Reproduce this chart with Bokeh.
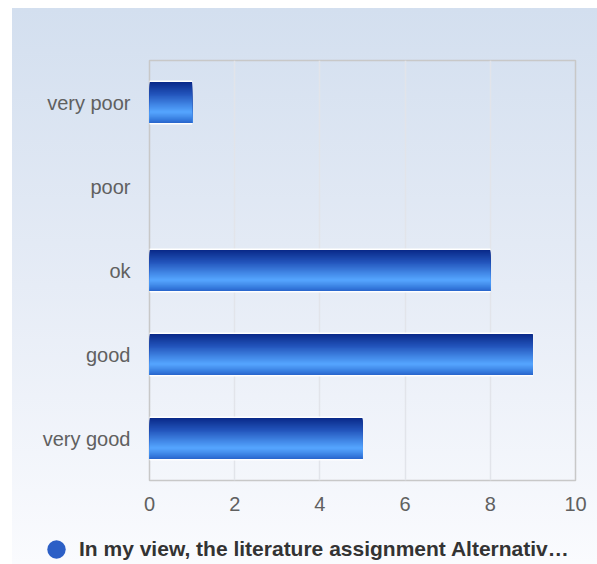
from bokeh.plotting import figure
from bokeh.layouts import column
from bokeh.models import ColumnDataSource, FactorRange, Range1d, Legend, LegendItem, FixedTicker
from bokeh.transform import dodge
from bokeh.embed import file_html
from bokeh.resources import INLINE

# ---- data ----
categories = ["very poor", "poor", "ok", "good", "very good"]
values = [1, 0, 8, 9, 5]
x_ticks = [0, 2, 4, 6, 8, 10]
series_name = "In my view, the literature assignment Alternativ\u2026"

# ---- styling ----
FONT = "Liberation Sans"
BAR_H = 0.49
grad_stops = [(0.0, (10, 42, 138)), (0.3, (36, 86, 188)), (0.6, (70, 142, 236)),
              (0.74, (86, 166, 255)), (0.88, (62, 134, 230)), (1.0, (42, 104, 206))]

def grad_color(t):
    for (t0, c0), (t1, c1) in zip(grad_stops[:-1], grad_stops[1:]):
        if t0 <= t <= t1:
            f = (t - t0) / (t1 - t0) if t1 > t0 else 0
            c = [round(a + (b - a) * f) for a, b in zip(c0, c1)]
            return "#%02x%02x%02x" % tuple(c)
    return "#%02x%02x%02x" % grad_stops[-1][1]

y_factors = list(reversed(categories))
src = ColumnDataSource(dict(cat=categories, val=values,
                            la=[1.0 if v > 0 else 0.0 for v in values]))

p = figure(width=585, height=508, y_range=FactorRange(*y_factors), x_range=Range1d(0, 10),
           output_backend="svg", toolbar_location=None,
           min_border_left=137, min_border_right=22, min_border_top=52, min_border_bottom=36)
p.border_fill_color = None
p.background_fill_color = None
p.outline_line_color = "#c8c8c8"
p.outline_line_width = 1.5

# white outline behind bar
p.hbar(y="cat", right="val", left=0, height=BAR_H + 0.025, source=src,
       fill_color="white", line_color="white", line_width=0.5,
       line_alpha="la", fill_alpha="la")
# vertical gradient: stacked strips, each from its top edge down to the bar bottom
N = 42
for i in range(N):
    h = BAR_H * (N - i) / N
    off = -BAR_H / 2 + h / 2
    p.hbar(y=dodge("cat", off, range=p.y_range), right="val", left=0,
           height=h, source=src,
           fill_color=grad_color(i / (N - 1)), line_color=None)

p.xaxis.ticker = FixedTicker(ticks=x_ticks)
for ax in (p.xaxis[0], p.yaxis[0]):
    ax.axis_line_color = None
    ax.major_tick_line_color = None
    ax.minor_tick_line_color = None
    ax.major_label_text_font = FONT
    ax.major_label_text_font_size = "20px"
    ax.major_label_text_color = "#606060"
p.xaxis.major_label_standoff = 10
p.yaxis.major_label_standoff = 13

p.xgrid.grid_line_color = "#e2e4ea"
p.xgrid.grid_line_width = 1.5
p.ygrid.grid_line_color = None

# legend strip below the chart
lf = figure(width=585, height=48, x_range=Range1d(0, 1), y_range=Range1d(0, 1),
            output_backend="svg", toolbar_location=None,
            min_border_left=0, min_border_right=0, min_border_top=0, min_border_bottom=0)
lf.frame_align = False
lf.axis.visible = False
lf.grid.visible = False
lf.outline_line_color = None
lf.border_fill_color = None
lf.background_fill_color = None
# swatch renderer (its single anchor point lies outside the visible range)
swatch = lf.scatter(x=[-1], y=[-1], marker="circle", size=19,
                    fill_color="#2c5fc6", line_color=None)
legend = Legend(items=[LegendItem(label=series_name, renderers=[swatch])],
                location=(21, -9), orientation="horizontal",
                border_line_color=None, background_fill_alpha=0,
                label_text_font=FONT, label_text_font_style="bold",
                label_text_font_size="21px", label_text_color="#333333",
                glyph_width=46, glyph_height=48, padding=0, margin=0,
                label_standoff=0)
lf.add_layout(legend, "center")

layout = column(p, lf, spacing=0, margin=(8, 0, 0, 12),
                styles={"background": "linear-gradient(to bottom, #d3dfef 0%, #e6ecf6 50%, #fafbfe 100%)"})

open("out.html", "w").write(file_html(layout, INLINE))
